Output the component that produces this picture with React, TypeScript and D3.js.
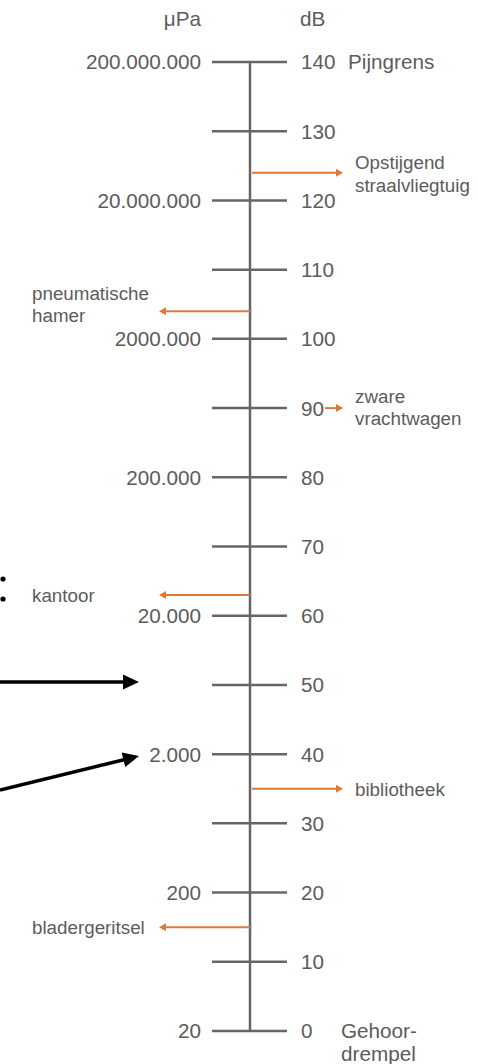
import React from "react";
import * as d3 from "d3";

const dbTicks = [0, 10, 20, 30, 40, 50, 60, 70, 80, 90, 100, 110, 120, 130, 140];
const paTickDb = [140, 120, 100, 80, 60, 40, 20, 0];
const paTickLabels = ["200.000.000", "20.000.000", "2000.000", "200.000", "20.000", "2.000", "200", "20"];

const sourceNames = [
  ["Opstijgend", "straalvliegtuig"],
  ["pneumatische", "hamer"],
  ["zware", "vrachtwagen"],
  ["kantoor"],
  ["bibliotheek"],
  ["bladergeritsel"],
];
const sourceDb = [124, 104, 90, 63, 35, 15];
const sourceSide = ["right", "left", "right", "left", "right", "left"];

const W = 478;
const H = 1064;
const AX = 250;
const GRAY = "#666666";
const TEXT = "#5c5c5c";
const ORANGE = "#df7a3b";
const FONT = "'Liberation Sans', Arial, sans-serif";

export default function App() {
  const y = d3.scaleLinear().domain([0, 140]).range([1031, 62]);

  const arrowHead = (tipX: number, tipY: number, dir: number, len: number, hw: number) =>
    `M${tipX},${tipY} L${tipX - dir * len},${tipY - hw} L${tipX - dir * len},${tipY + hw} Z`;

  const ang = Math.atan2(34, 139);
  const tip2 = [139, 756];
  const b2x = tip2[0] - 16 * Math.cos(ang);
  const b2y = tip2[1] + 16 * Math.sin(ang);
  const px = 7.5 * Math.sin(ang);
  const py = 7.5 * Math.cos(ang);

  return (
    <svg
      width={W}
      height={H}
      viewBox={`0 0 ${W} ${H}`}
      style={{ position: "absolute", left: 0, top: 0, background: "#fff" }}
      fontFamily={FONT}
    >
      {/* headers */}
      <text x={201} y={26} textAnchor="end" fontSize={20.7} fill={TEXT}>μPa</text>
      <text x={300} y={26} textAnchor="start" fontSize={20.7} fill={TEXT}>dB</text>

      {/* axis */}
      <line x1={AX} x2={AX} y1={y(140)} y2={y(0)} stroke={GRAY} strokeWidth={2.5} />
      {dbTicks.map((d) => (
        <g key={d}>
          <line x1={212} x2={287} y1={y(d)} y2={y(d)} stroke={GRAY} strokeWidth={2.5} />
          <text x={301} y={y(d)} dy="0.36em" fontSize={20.7} fill={TEXT}>{d}</text>
        </g>
      ))}
      {paTickDb.map((d, i) => (
        <text key={d} x={201} y={y(d)} dy="0.36em" textAnchor="end" fontSize={20.7} fill={TEXT}>
          {paTickLabels[i]}
        </text>
      ))}

      {/* end labels */}
      <text x={348} y={y(140)} dy="0.36em" fontSize={20.7} fill={TEXT}>Pijngrens</text>
      <text x={341} y={y(0)} dy="0.36em" fontSize={20.7} fill={TEXT}>Gehoor-</text>
      <text x={341} y={y(0) + 23} dy="0.36em" fontSize={20.7} fill={TEXT}>drempel</text>

      {/* sound sources */}
      {sourceNames.map((lines, i) => {
        const yy = y(sourceDb[i]);
        const right = sourceSide[i] === "right";
        const isShort = sourceDb[i] === 90;
        const x1 = right ? (isShort ? 325 : 252) : AX;
        const x2 = right ? 343 : 159;
        const dir = right ? 1 : -1;
        const tx = right ? 355 : 32;
        let offsets: number[];
        if (lines.length === 1) offsets = [0];
        else if (right && !isShort) offsets = [-11, 12];
        else if (right) offsets = [-12, 10];
        else offsets = [-18, 4];
        return (
          <g key={i}>
            <line x1={x1} x2={x2 - dir * 5} y1={yy} y2={yy} stroke={ORANGE} strokeWidth={2} />
            <path d={arrowHead(x2, yy, dir, 7, 4)} fill={ORANGE} />
            {lines.map((t, j) => (
              <text key={j} x={tx} y={yy + offsets[j]} dy="0.36em" fontSize={18.8} fill={TEXT}>{t}</text>
            ))}
          </g>
        );
      })}

      {/* cropped black pointers from the surrounding figure */}
      <circle cx={3} cy={579} r={2.6} fill="#000" />
      <circle cx={3} cy={599} r={2.6} fill="#000" />
      <line x1={0} y1={682} x2={124} y2={682} stroke="#000" strokeWidth={3.5} />
      <path d={arrowHead(139, 682, 1, 16, 7.5)} fill="#000" />
      <line x1={0} y1={790} x2={124} y2={759.7} stroke="#000" strokeWidth={3.5} />
      <path d={`M${tip2[0]},${tip2[1]} L${b2x + px},${b2y + py} L${b2x - px},${b2y - py} Z`} fill="#000" />
    </svg>
  );
}
